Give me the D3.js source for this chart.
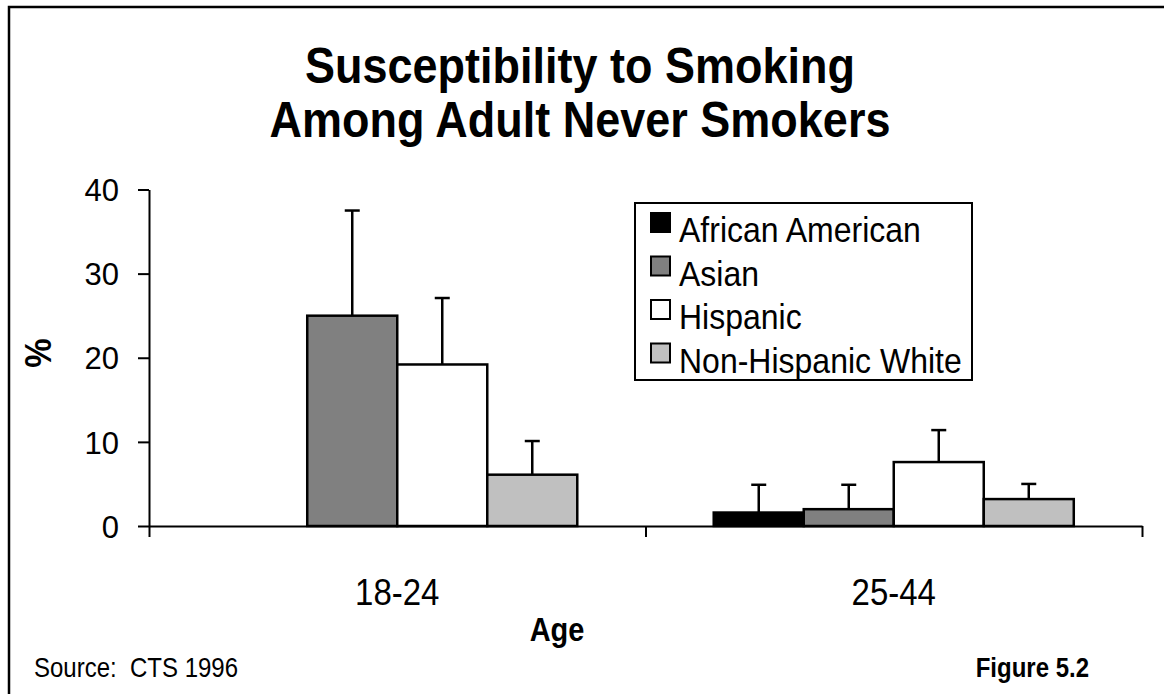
<!DOCTYPE html>
<html>
<head>
<meta charset="utf-8">
<script src="https://cdn.jsdelivr.net/npm/d3@7"></script>
<style>
  html, body { margin: 0; padding: 0; background: #fff; }
  svg { display: block; }
  text { font-family: "Liberation Sans", Arial, Helvetica, sans-serif; fill: #000; white-space: pre; }
</style>
</head>
<body>
<svg id="chart" width="1164" height="694"></svg>
<script>
// ---- data ----
const categories = ["18-24", "25-44"];
const seriesNames = ["African American", "Asian", "Hispanic", "Non-Hispanic White"];
const seriesColors = ["#000000", "#808080", "#ffffff", "#c0c0c0"];
const africanAmerican = [0, 1.6];
const asian = [25.0, 2.0];
const hispanic = [19.2, 7.6];
const nonHispanicWhite = [6.1, 3.2];
const africanAmericanUpper = [null, 4.9];
const asianUpper = [37.5, 4.9];
const hispanicUpper = [27.1, 11.4];
const nonHispanicWhiteUpper = [10.1, 5.0];
const yTicks = [0, 10, 20, 30, 40];
const titleLines = ["Susceptibility to Smoking", "Among Adult Never Smokers"];

const seriesValues = [africanAmerican, asian, hispanic, nonHispanicWhite];
const seriesUpper = [africanAmericanUpper, asianUpper, hispanicUpper, nonHispanicWhiteUpper];

// ---- layout ----
const svg = d3.select("#chart");
const SY = 1.12; // vertical text stretch

function stretchedText(sel, x, y, txt) {
  return sel.append("text")
    .attr("transform", `translate(${x},${y}) scale(1,${SY})`)
    .text(txt);
}

// outer frame
svg.append("rect")
  .attr("x", 9).attr("y", 7)
  .attr("width", 1200).attr("height", 720)
  .attr("fill", "none").attr("stroke", "#000").attr("stroke-width", 2.5);

// title
titleLines.forEach((t, i) => {
  stretchedText(svg, 580, 83 + i * 54, t)
    .attr("text-anchor", "middle")
    .attr("font-size", 45).attr("font-weight", "bold");
});

const xLeft = 149, xRight = 1142, yBottom = 526, yTop = 189.5;

const x0 = d3.scaleBand().domain(categories).range([xLeft, xRight]).paddingInner(0).paddingOuter(0);
const x1 = d3.scaleBand().domain(seriesNames).range([0, x0.bandwidth()]).paddingInner(0).paddingOuter(0.758);
const y = d3.scaleLinear().domain([0, 40]).range([yBottom, yTop]);

// bars
const rows = [];
categories.forEach((c, ci) => {
  seriesNames.forEach((s, si) => {
    rows.push({ cat: c, name: s, color: seriesColors[si], v: seriesValues[si][ci], up: seriesUpper[si][ci] });
  });
});

const g = svg.append("g");
g.selectAll("rect.bar").data(rows).join("rect")
  .attr("class", "bar")
  .attr("x", d => x0(d.cat) + x1(d.name))
  .attr("y", d => y(d.v))
  .attr("width", x1.bandwidth())
  .attr("height", d => y(0) - y(d.v))
  .attr("fill", d => d.color)
  .attr("stroke", "#000")
  .attr("stroke-width", 2.5);

// error bars
const eb = rows.filter(d => d.up != null);
g.selectAll("line.err").data(eb).join("line")
  .attr("x1", d => x0(d.cat) + x1(d.name) + x1.bandwidth() / 2)
  .attr("x2", d => x0(d.cat) + x1(d.name) + x1.bandwidth() / 2)
  .attr("y1", d => y(d.v))
  .attr("y2", d => y(d.up))
  .attr("stroke", "#000").attr("stroke-width", 2.5);
g.selectAll("line.cap").data(eb).join("line")
  .attr("x1", d => x0(d.cat) + x1(d.name) + x1.bandwidth() / 2 - 7.5)
  .attr("x2", d => x0(d.cat) + x1(d.name) + x1.bandwidth() / 2 + 7.5)
  .attr("y1", d => y(d.up))
  .attr("y2", d => y(d.up))
  .attr("stroke", "#000").attr("stroke-width", 2.5);

// y axis
const yAxis = svg.append("g").attr("transform", `translate(${xLeft},0)`)
  .call(d3.axisLeft(y).tickValues(yTicks).tickSize(11).tickSizeOuter(0).tickPadding(19));
yAxis.select(".domain").attr("stroke-width", 2);
yAxis.selectAll(".tick line").attr("stroke-width", 2);
yAxis.selectAll(".tick text")
  .attr("font-size", 31)
  .attr("font-family", "'Liberation Sans', Arial, sans-serif")
  .attr("fill", "#000")
  .attr("dy", "0.36em");

// x axis: boundary ticks
const xb = d3.scaleLinear().domain([0, categories.length]).range([xLeft, xRight]);
const xAxisB = svg.append("g").attr("transform", `translate(0,${yBottom})`)
  .call(d3.axisBottom(xb).tickValues(d3.range(categories.length + 1)).tickSize(11).tickSizeOuter(0).tickFormat(""));
xAxisB.select(".domain").attr("stroke-width", 2);
xAxisB.selectAll(".tick line").attr("stroke-width", 2);

// x labels
const xAxisL = svg.append("g").attr("transform", `translate(0,${yBottom})`)
  .call(d3.axisBottom(x0).tickSize(0).tickPadding(0));
xAxisL.select(".domain").remove();
xAxisL.selectAll(".tick text").each(function () {
  const t = d3.select(this);
  t.attr("font-size", 33)
   .attr("font-family", "'Liberation Sans', Arial, sans-serif")
   .attr("fill", "#000")
   .attr("dy", null)
   .attr("y", null)
   .attr("transform", `translate(0,79) scale(1,${SY})`);
});

// axis titles
stretchedText(svg, 557, 641, "Age").attr("text-anchor", "middle").attr("font-size", 29).attr("font-weight", "bold");
svg.append("text")
  .attr("transform", `translate(51,353) rotate(-90) scale(1,${SY})`)
  .attr("text-anchor", "middle")
  .attr("font-size", 33).attr("font-weight", "bold")
  .text("%");

// legend
const lg = svg.append("g");
lg.append("rect").attr("x", 635).attr("y", 203).attr("width", 337).attr("height", 177)
  .attr("fill", "#fff").attr("stroke", "#000").attr("stroke-width", 2);
seriesNames.forEach((s, i) => {
  const yy = 213 + i * 43.5;
  lg.append("rect").attr("x", 651).attr("y", yy).attr("width", 19).attr("height", 19)
    .attr("fill", seriesColors[i]).attr("stroke", "#000").attr("stroke-width", 2);
  stretchedText(lg, 679, yy + 29, s).attr("font-size", 32);
});

// footer
stretchedText(svg, 34, 677, "Source:  CTS 1996").attr("font-size", 24);
stretchedText(svg, 1089, 677, "Figure 5.2").attr("font-size", 24).attr("font-weight", "bold").attr("text-anchor", "end");
</script>
</body>
</html>
